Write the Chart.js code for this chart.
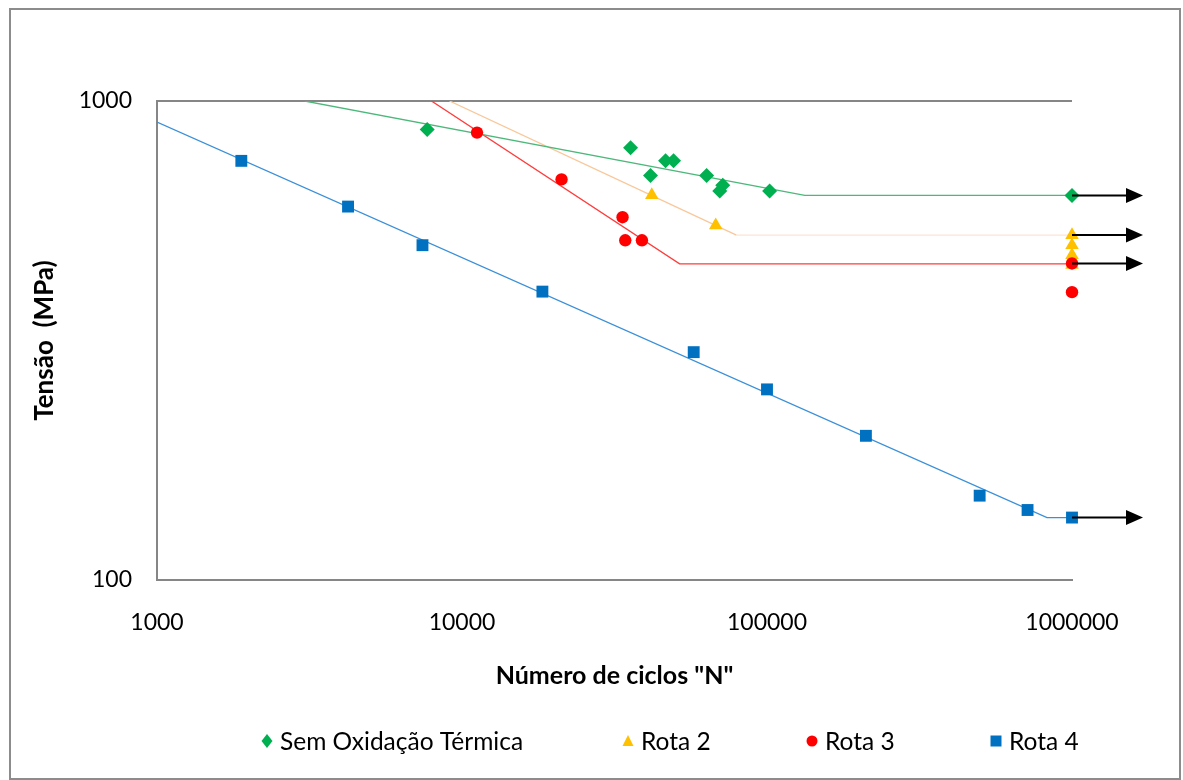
<!DOCTYPE html>
<html>
<head>
<meta charset="utf-8">
<script src="https://cdn.jsdelivr.net/npm/chart.js@4/dist/chart.umd.min.js"></script>
<style>
  html, body { margin: 0; padding: 0; background: #fff; }
  #wrap { position: relative; width: 1183px; height: 780px; overflow: hidden; }
  #frame { position: absolute; left: 9px; top: 8px; width: 1172px; height: 772px; border: 2px solid #8c8c8c; box-sizing: border-box; }
  canvas { position: absolute; left: 0; top: 0; }
</style>
</head>
<body>
<div id="wrap">
  <div id="frame"></div>
  <canvas id="grafico" width="1183" height="780"></canvas>
</div>
<script>
// eixos
const xTicks = [1000, 10000, 100000, 1000000];
const yTicks = [100, 1000];

// pontos experimentais: ciclos N e tensão (MPa)
const semOxN = [7690, 35700, 46500, 49400, 41500, 63400, 71600, 70000, 102000, 1000000];
const semOxS = [872, 799, 750, 750, 699, 699, 667, 649, 649, 635];
const rota2N = [41900, 67900, 1000000, 1000000, 1000000, 1000000];
const rota2S = [636, 550, 525, 500, 477, 455];
const rota3N = [11200, 21200, 33600, 34300, 38900, 1000000, 1000000];
const rota3S = [859, 686, 572, 512, 512, 458, 399];
const rota4N = [1890, 4230, 7420, 18350, 57500, 100000, 211000, 498000, 715000, 1000000];
const rota4S = [750, 602, 500, 400, 299, 250, 200, 150, 140, 135];

// curvas S-N (início, joelho, fim)
const curvaSemOxN = [3050, 133000, 1000000];
const curvaSemOxS = [1000, 635, 635];
const curvaRota2N = [9100, 79400, 1000000];
const curvaRota2S = [1000, 525, 525];
const curvaRota3N = [7940, 51700, 1000000];
const curvaRota3S = [1000, 457, 457];
const curvaRota4N = [1000, 828000, 1000000];
const curvaRota4S = [904, 135, 135];

// corpos de prova que não romperam (setas)
const runoutS = [635, 525, 458, 135];

const legendas = ['Sem Oxidação Térmica', 'Rota 2', 'Rota 3', 'Rota 4'];
const cores = ['#00B050', '#FFC000', '#FF0000', '#0070C0'];

const FONTE = "Lato, 'Open Sans', sans-serif";

function pares(xs, ys) {
    return xs.map((v, i) => ({ x: v, y: ys[i] }));
}

// order menor = desenhado por cima (como no Excel, a última série fica na frente)
function pontos(label, xs, ys, cor, estilo, raio, ordem) {
    return {
        label: label,
        data: pares(xs, ys),
        showLine: false,
        clip: false,
        order: ordem,
        pointStyle: estilo,
        pointRadius: raio,
        pointBackgroundColor: cor,
        pointBorderColor: cor,
        pointBorderWidth: 0
    };
}

function curva(xs, ys, cor, corPlato) {
    return {
        label: 'curva',
        data: pares(xs, ys),
        showLine: true,
        order: 10,
        pointRadius: 0,
        borderColor: cor,
        borderWidth: 1.3,
        segment: { borderColor: c => (c.p0DataIndex === 1 && corPlato) ? corPlato : cor }
    };
}

// setas de run-out a partir de 10^6 ciclos
const setas = {
    id: 'setas',
    afterDatasetsDraw(chart) {
        const { ctx, scales: { x, y } } = chart;
        const x0 = x.getPixelForValue(1000000);
        ctx.save();
        ctx.strokeStyle = '#000';
        ctx.fillStyle = '#000';
        ctx.lineWidth = 2;
        runoutS.forEach(s => {
            const py = y.getPixelForValue(s);
            ctx.beginPath();
            ctx.moveTo(x0, py);
            ctx.lineTo(x0 + 58, py);
            ctx.stroke();
            ctx.beginPath();
            ctx.moveTo(x0 + 54, py - 7.5);
            ctx.lineTo(x0 + 71, py);
            ctx.lineTo(x0 + 54, py + 7.5);
            ctx.closePath();
            ctx.fill();
        });
        ctx.restore();
    }
};

// legenda desenhada embaixo
const legenda = {
    id: 'legenda',
    afterDraw(chart) {
        const ctx = chart.ctx;
        const posX = [267, 628, 812, 996];
        const yL = 741;
        ctx.save();
        ctx.font = '24.5px ' + FONTE;
        ctx.textBaseline = 'middle';
        ctx.textAlign = 'left';
        legendas.forEach((txt, i) => {
            const cx = posX[i];
            ctx.fillStyle = cores[i];
            ctx.beginPath();
            if (i === 0) {
                ctx.moveTo(cx, yL - 7); ctx.lineTo(cx + 5.5, yL); ctx.lineTo(cx, yL + 7); ctx.lineTo(cx - 5.5, yL);
            } else if (i === 1) {
                ctx.moveTo(cx, yL - 6); ctx.lineTo(cx + 5.5, yL + 5); ctx.lineTo(cx - 5.5, yL + 5);
            } else if (i === 2) {
                ctx.arc(cx, yL, 5.5, 0, Math.PI * 2);
            } else {
                ctx.rect(cx - 5.5, yL - 5.5, 11, 11);
            }
            ctx.closePath();
            ctx.fill();
            ctx.fillStyle = '#000';
            ctx.fillText(txt, cx + 13, yL + 1);
        });
        ctx.restore();
    }
};

const ctx = document.getElementById('grafico').getContext('2d');
new Chart(ctx, {
    type: 'scatter',
    data: {
        datasets: [
            pontos(legendas[0], semOxN, semOxS, cores[0], 'rectRot', 7.5, 4),
            pontos(legendas[1], rota2N, rota2S, cores[1], 'triangle', 7.8, 3),
            pontos(legendas[2], rota3N, rota3S, cores[2], 'circle', 6.2, 2),
            pontos(legendas[3], rota4N, rota4S, cores[3], 'rect', 8.4, 1),
            curva(curvaSemOxN, curvaSemOxS, '#4CB87A'),
            curva(curvaRota2N, curvaRota2S, '#F9C79A', '#FBE4D3'),
            curva(curvaRota3N, curvaRota3S, '#FF3B3B'),
            curva(curvaRota4N, curvaRota4S, '#3A8FD9')
        ]
    },
    options: {
        responsive: false,
        animation: false,
        layout: { padding: { left: 0, top: 101, right: 111, bottom: 80 } },
        plugins: {
            legend: { display: false },
            tooltip: { enabled: false }
        },
        scales: {
            x: {
                type: 'logarithmic',
                min: 1000,
                max: 1000000,
                afterBuildTicks: s => { s.ticks = xTicks.map(v => ({ value: v })); },
                afterFit: s => { s.height = 120; },
                ticks: {
                    callback: v => String(v),
                    font: { family: FONTE, size: 23 },
                    color: '#000',
                    padding: 29,
                    maxRotation: 0,
                    autoSkip: false
                },
                grid: { drawOnChartArea: false, drawTicks: false },
                border: { display: true, color: '#868686', width: 2 },
                title: {
                    display: true,
                    text: 'Número de ciclos "N"',
                    font: { family: FONTE, size: 25, weight: 'bold' },
                    color: '#000',
                    padding: { top: 0, bottom: 9 }
                }
            },
            y: {
                type: 'logarithmic',
                min: 100,
                max: 1000,
                afterBuildTicks: s => { s.ticks = yTicks.map(v => ({ value: v })); },
                afterFit: s => { s.width = 157; },
                ticks: {
                    callback: v => String(v),
                    font: { family: FONTE, size: 23 },
                    color: '#000',
                    padding: 25
                },
                grid: { color: '#868686', lineWidth: 2, drawTicks: false },
                border: { display: true, color: '#868686', width: 2 },
                title: {
                    display: true,
                    text: 'Tensão  (MPa)',
                    font: { family: FONTE, size: 26, weight: 'bold' },
                    color: '#000',
                    padding: { top: 29, bottom: 0 }
                }
            }
        }
    },
    plugins: [setas, legenda]
});
</script>
</body>
</html>
